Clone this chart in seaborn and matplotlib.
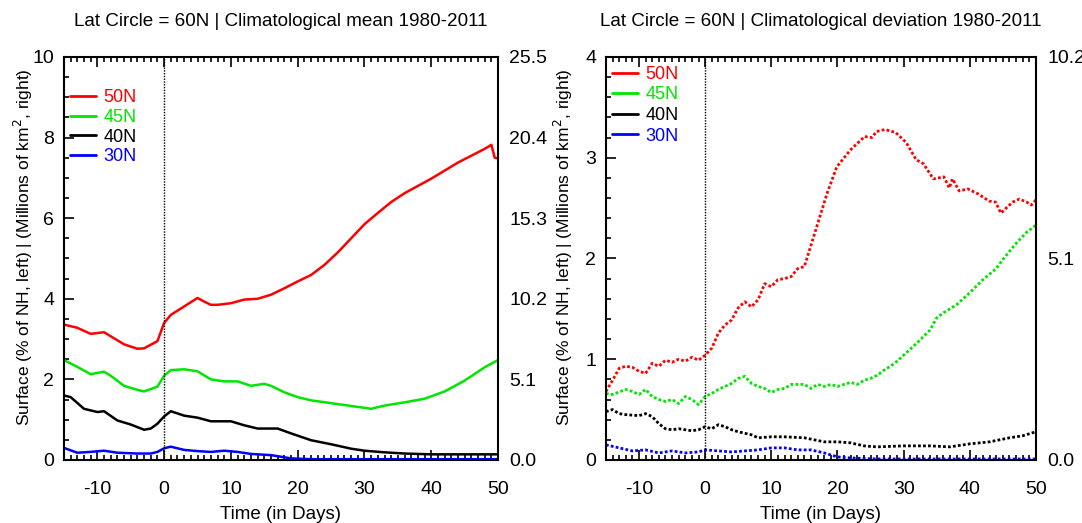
import matplotlib
matplotlib.use("Agg")
import matplotlib.pyplot as plt
from matplotlib.lines import Line2D
from matplotlib.ticker import MultipleLocator
import seaborn as sns

sns.set_style("ticks")
plt.rcParams['font.family'] = ['Liberation Sans', 'DejaVu Sans']
plt.rcParams['axes.unicode_minus'] = False
for k in ['text.color', 'axes.labelcolor', 'xtick.color', 'ytick.color', 'axes.edgecolor']:
    plt.rcParams[k] = 'black'

labels = ['50N', '45N', '40N', '30N']
colors = ['#ff0000', '#00e600', '#000000', '#0000ff']

# climatological mean (left panel)
mean_x_50 = [-15, -13, -11, -9, -8, -6, -4, -3, -1, 0, 1, 3, 5, 6, 7, 8, 10, 12, 14, 16, 18, 20, 22, 24,
             26, 28, 30, 32, 34, 36, 38, 40, 42, 44, 46, 48, 49, 49.5, 50]
mean_y_50 = [3.36, 3.28, 3.13, 3.17, 3.07, 2.87, 2.76, 2.77, 2.95, 3.40, 3.60, 3.81, 4.02, 3.93, 3.85, 3.85,
             3.89, 3.98, 4.00, 4.10, 4.26, 4.43, 4.59, 4.84, 5.15, 5.50, 5.85, 6.13, 6.40, 6.62, 6.80, 6.98,
             7.18, 7.38, 7.55, 7.72, 7.82, 7.50, 7.48]
mean_x_45 = [-15, -13, -11, -9, -8, -6, -4, -3, -1, 0, 1, 3, 5, 7, 9, 11, 13, 15, 16, 18, 20, 22, 25, 28,
             31, 33, 36, 39, 42, 45, 48, 50]
mean_y_45 = [2.48, 2.31, 2.13, 2.19, 2.09, 1.84, 1.74, 1.70, 1.82, 2.09, 2.23, 2.25, 2.20, 2.00, 1.95, 1.95,
             1.84, 1.89, 1.84, 1.68, 1.56, 1.48, 1.41, 1.34, 1.27, 1.35, 1.43, 1.52, 1.70, 1.97, 2.30, 2.48]
mean_x_40 = [-15, -14, -12, -10, -9, -7, -5, -3, -2, -1, 0, 1, 3, 5, 7, 10, 12, 14, 17, 19, 22, 25, 28,
             30, 33, 36, 40, 45, 50]
mean_y_40 = [1.60, 1.56, 1.27, 1.19, 1.21, 0.98, 0.88, 0.75, 0.78, 0.90, 1.08, 1.21, 1.10, 1.05, 0.96, 0.96,
             0.86, 0.78, 0.78, 0.66, 0.49, 0.39, 0.28, 0.23, 0.19, 0.16, 0.14, 0.14, 0.14]
mean_x_30 = [-15, -13, -11, -9, -7, -4, -2, -1, 0, 1, 3, 5, 7, 9, 11, 13, 16, 19, 22, 30, 50]
mean_y_30 = [0.30, 0.18, 0.20, 0.23, 0.18, 0.16, 0.16, 0.20, 0.29, 0.33, 0.25, 0.22, 0.20, 0.23, 0.20,
             0.15, 0.12, 0.04, 0.02, 0.02, 0.02]

# climatological deviation (right panel)
dev_x_50 = [-15, -14, -13, -12, -11, -10, -9, -8, -7, -6, -5, -4, -3, -2, -1, 0, 1, 2, 3, 4, 5, 6, 7, 8, 9,
            10, 11, 12, 13, 14, 15, 16.8, 18.4, 19.9, 22, 24.1, 25.2, 25.9, 27.2, 28.8, 30.4, 31.9, 33,
            34.5, 36.1, 36.9, 37.4, 38.4, 39.7, 41.3, 42.9, 43.9, 44.7, 45.5, 46.5, 47.5, 48.6, 49.3, 50]
dev_y_50 = [0.68, 0.79, 0.91, 0.93, 0.92, 0.88, 0.86, 0.96, 0.93, 0.99, 0.97, 1.00, 0.98, 1.02, 0.99, 1.04,
            1.11, 1.26, 1.34, 1.39, 1.51, 1.57, 1.52, 1.59, 1.75, 1.72, 1.79, 1.80, 1.82, 1.90, 1.92,
            2.30, 2.64, 2.91, 3.08, 3.21, 3.20, 3.26, 3.28, 3.25, 3.15, 2.98, 2.94, 2.79, 2.81, 2.70,
            2.79, 2.67, 2.69, 2.64, 2.57, 2.56, 2.45, 2.50, 2.56, 2.59, 2.56, 2.53, 2.58]
dev_x_45 = [-15, -14, -12, -11, -10, -9, -8, -7, -6, -5, -4, -3, -2, -1, 0, 1, 2, 3, 4, 5, 6, 7, 8, 9, 10,
            11, 12, 13, 14, 15, 16, 17, 18, 19, 20, 21, 22, 23, 24, 25, 26, 27, 28, 29, 30, 32, 34, 35,
            36, 38, 40, 42, 44, 45, 47, 48.6, 50]
dev_y_45 = [0.66, 0.65, 0.70, 0.68, 0.65, 0.70, 0.63, 0.60, 0.58, 0.60, 0.56, 0.63, 0.60, 0.55, 0.63, 0.66,
            0.70, 0.73, 0.76, 0.81, 0.83, 0.76, 0.73, 0.71, 0.67, 0.70, 0.71, 0.75, 0.75, 0.75, 0.71, 0.75,
            0.73, 0.75, 0.73, 0.75, 0.77, 0.75, 0.79, 0.81, 0.84, 0.89, 0.93, 0.98, 1.04, 1.16, 1.29, 1.41,
            1.46, 1.54, 1.66, 1.79, 1.90, 1.99, 2.15, 2.26, 2.33]
dev_x_40 = [-15, -14, -13, -12, -10, -9, -8, -7, -6, -5, -4, -2, -1, 0, 1, 2, 3, 4, 5, 7, 8, 10, 12, 15,
            18, 20, 22, 24, 26, 30, 34, 37, 40, 43, 46, 48, 50]
dev_y_40 = [0.48, 0.50, 0.46, 0.45, 0.44, 0.46, 0.43, 0.36, 0.31, 0.30, 0.31, 0.29, 0.30, 0.33, 0.31, 0.35,
            0.33, 0.30, 0.28, 0.25, 0.22, 0.23, 0.23, 0.22, 0.18, 0.18, 0.17, 0.14, 0.13, 0.14, 0.14, 0.13,
            0.16, 0.18, 0.22, 0.24, 0.28]
dev_x_30 = [-15, -13, -11, -9, -7, -5, -3, -1, 0, 2, 4, 6, 8, 10, 12, 14, 16, 18, 20, 22, 26, 50]
dev_y_30 = [0.15, 0.12, 0.09, 0.10, 0.07, 0.09, 0.07, 0.08, 0.10, 0.09, 0.08, 0.09, 0.10, 0.12, 0.12, 0.10,
            0.10, 0.07, 0.03, 0.02, 0.01, 0.01]

mean_series = [(mean_x_50, mean_y_50), (mean_x_45, mean_y_45), (mean_x_40, mean_y_40), (mean_x_30, mean_y_30)]
dev_series = [(dev_x_50, dev_y_50), (dev_x_45, dev_y_45), (dev_x_40, dev_y_40), (dev_x_30, dev_y_30)]

left_ticks = [0, 2, 4, 6, 8, 10]
right_ticks_mean = [0.0, 5.1, 10.2, 15.3, 20.4, 25.5]
dev_ticks = [0, 1, 2, 3, 4]
right_ticks_dev = [0.0, 5.1, 10.2]

fs = 14
ylab = r'Surface (% of NH, left) | (Millions of km$^2$, right)'

fig = plt.figure(figsize=(10.82, 5.23), dpi=100)
ax1 = fig.add_axes([0.0591, 0.1205, 0.4012, 0.7706])
ax2 = fig.add_axes([0.560, 0.1205, 0.3974, 0.7706])


def style_axis(ax, yticks, yminor, rticks, rmax, title, legend_y, ylab_x, spacing):
    ax.set_xlim(-15, 50)
    ax.set_ylim(0, yticks[-1])
    ax.set_xticks([-10, 0, 10, 20, 30, 40, 50])
    ax.xaxis.set_minor_locator(MultipleLocator(1))
    ax.set_yticks(yticks)
    ax.yaxis.set_minor_locator(MultipleLocator(yminor))
    ax.tick_params(which='both', direction='in', top=True, right=True, width=1.2,
                   color='black', labelsize=fs)
    ax.tick_params(which='major', length=7)
    ax.tick_params(which='minor', length=3.5)
    ax.tick_params(axis='y', which='major', pad=7)
    ax.tick_params(axis='x', which='major', pad=15)
    for s in ax.spines.values():
        s.set_linewidth(1.5)
    ax.axvline(0, color='black', lw=1, ls=(0, (1, 1)))
    ax.set_xlabel('Time (in Days)', fontsize=13.5, labelpad=6)
    ax.set_ylabel(ylab, fontsize=12.5)
    ax.yaxis.set_label_coords(ylab_x, 0.528)
    ax.set_title(title, fontsize=13.6, pad=22)
    tw = ax.twinx()
    tw.set_ylim(0, rmax)
    tw.set_yticks(rticks)
    tw.yaxis.set_major_formatter('{x:.1f}')
    tw.tick_params(length=0, labelsize=fs, pad=8)
    for s in tw.spines.values():
        s.set_visible(False)
    handles = [Line2D([], [], color=c, lw=2) for c in colors]
    ax.legend(handles, labels, loc='upper left', bbox_to_anchor=(0.014, legend_y), frameon=False,
              labelcolor=colors, fontsize=13, handlelength=1.45, handletextpad=0.4,
              labelspacing=spacing, borderpad=0, borderaxespad=0)


for (x, y), c in zip(mean_series, colors):
    sns.lineplot(x=x, y=y, ax=ax1, color=c, lw=1.8)
for (x, y), c in zip(dev_series, colors):
    sns.lineplot(x=x, y=y, ax=ax2, color=c, lw=2, linestyle=(0, (1, 0.8)))

style_axis(ax1, left_ticks, 0.5, right_ticks_mean, 25.5,
           'Lat Circle = 60N | Climatological mean 1980-2011', 0.92, -0.066, 0.15)
style_axis(ax2, dev_ticks, 0.2, right_ticks_dev, 10.2,
           'Lat Circle = 60N | Climatological deviation 1980-2011', 0.978, -0.073, 0.2)

fig.savefig('out.png', dpi=100)
